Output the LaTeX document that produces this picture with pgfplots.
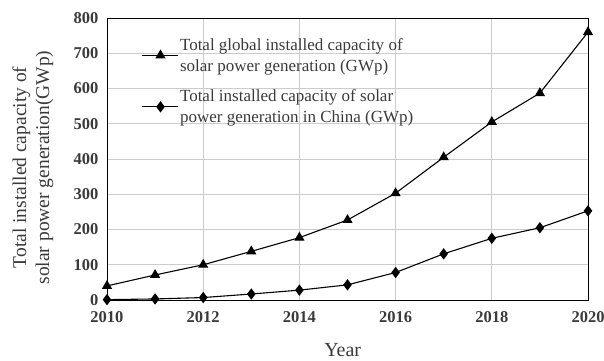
\documentclass[border=0pt]{standalone}
\usepackage{pgfplots}
\pgfplotsset{compat=1.18}
\usepackage{fontspec}
\setmainfont{Liberation Serif}
\definecolor{txt}{HTML}{3A3A3A}
\definecolor{gridc}{HTML}{CCCCCC}
\begin{document}
\begin{tikzpicture}
\useasboundingbox (0,0) rectangle (604pt,360pt);
\begin{axis}[
  at={(107pt,60pt)}, anchor=south west,
  width=481pt, height=282pt, scale only axis,
  xmin=2010, xmax=2020, ymin=0, ymax=800,
  xtick={2010,2012,...,2020}, ytick={0,100,...,800},
  x tick label style={/pgf/number format/1000 sep={}},
  /pgf/number format/assume math mode=true,
  tick label style={font=\fontsize{16.5}{18}\selectfont\bfseries, text=txt},
  grid=major, major grid style={gridc, line width=1pt},
  axis line style={black, line width=1pt},
  tick style={draw=none},
  xticklabel style={yshift=-8pt},
  yticklabel style={xshift=-5pt},
  xlabel={Year},
  ylabel={Total installed capacity of\\solar power generation(GWp)},
  xlabel style={at={(axis description cs:0.49,-0.178)}, anchor=center, font=\fontsize{20}{22}\selectfont, text=txt},
  ylabel style={at={(axis description cs:-0.154,0.47)}, anchor=center, align=center, font=\fontsize{19.5}{23}\selectfont, text=txt},
  legend style={at={(axis description cs:0.066,0.94)}, anchor=north west, draw=none, fill=none,
    font=\fontsize{17}{21}\selectfont, text=txt, row sep=15pt,
    nodes={align=left, inner sep=1pt, font=\fontsize{17}{21}\selectfont}},
  legend cell align=left,
  legend image code/.code={\draw[#1, mark repeat=2, mark phase=2] plot coordinates {(0pt,0pt)(18pt,0pt)(36pt,0pt)};},
]
\addplot[black, line width=1.1pt, mark=triangle*, mark size=4.8pt, mark options={solid}] coordinates {
(2010,40) (2011,71) (2012,100) (2013,138) (2014,177) (2015,227) (2016,303) (2017,405) (2018,505) (2019,587) (2020,760)};
\addlegendentry{Total global installed capacity of\\solar power generation (GWp)}
\addplot[black, line width=1.1pt, mark=diamond*, mark size=4.8pt, mark options={solid}] coordinates {
(2010,1) (2011,3) (2012,7) (2013,17) (2014,28) (2015,43) (2016,78) (2017,131) (2018,175) (2019,205) (2020,253)};
\addlegendentry{Total installed capacity of solar\\power generation in China (GWp)}
\end{axis}
\end{tikzpicture}
\end{document}
